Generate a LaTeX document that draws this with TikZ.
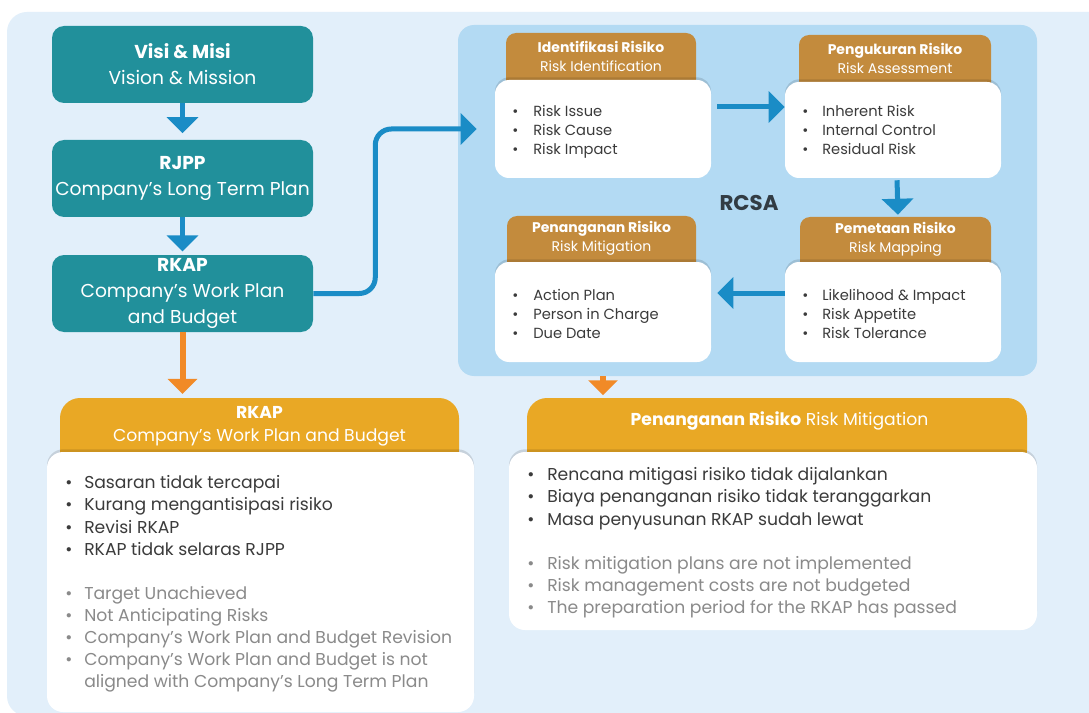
\documentclass[tikz,border=0pt]{standalone}
\usepackage{fontspec}
\setmainfont{Poppins}
\usetikzlibrary{arrows.meta,calc,shadows}
\definecolor{bgblue}{HTML}{E2EFFA}
\definecolor{panelc}{HTML}{B3DAF3}
\definecolor{tealc}{HTML}{21909B}
\definecolor{goldc}{HTML}{C38B3D}
\definecolor{orangeh}{HTML}{E9A825}
\definecolor{orangea}{HTML}{F18A27}
\definecolor{bluea}{HTML}{1A8CC6}
\definecolor{darkt}{HTML}{3B3B3B}
\definecolor{grayt}{HTML}{8A8A8A}
\definecolor{rcsat}{HTML}{323C44}
\newcommand\itm[3]{\strut\makebox[#1][l]{\color{#2}\textbullet}{\color{#2}#3}}
\begin{document}
\begin{tikzpicture}[x=0.75pt,y=-0.75pt,
  tealbox/.style={fill=tealc, rounded corners=9pt, minimum width=195.75pt, minimum height=57.75pt, inner sep=0pt, text=white, align=center, font=\fontsize{14}{19.5}\selectfont},
  panel/.style={fill=panelc, rounded corners=12pt, inner sep=0pt},
  ghead/.style={fill=goldc, rounded corners=7.5pt, inner sep=0pt, minimum height=46.5pt},
  gheadtext/.style={text=white, align=center, inner sep=0pt, font=\fontsize{10.5}{14.25}\selectfont},
  wbox/.style={fill=white, rounded corners=10.5pt, inner sep=0pt, minimum width=162pt, drop shadow={shadow xshift=0pt, shadow yshift=2pt, opacity=0.12, fill=black}},
  blist/.style={anchor=north west, inner sep=0pt, align=left, font=\fontsize{11}{14.25}\selectfont},
  ohead/.style={fill=orangeh, rounded corners=15pt, inner sep=0pt, minimum height=54pt},
  oheadtext/.style={text=white, align=center, inner sep=0pt, font=\fontsize{12.9}{17.25}\selectfont},
  bigbox/.style={fill=white, rounded corners=12pt, inner sep=0pt, drop shadow={shadow xshift=0pt, shadow yshift=2pt, opacity=0.12, fill=black}},
  biglist/.style={anchor=north west, inner sep=0pt, align=left, font=\fontsize{12.9}{16.6}\selectfont},
  bluearrow/.style={draw=bluea, line width=3.75pt, -{Triangle[width=23.25pt,length=12pt]}},
  orangearrow/.style={draw=orangea, line width=4.5pt, -{Triangle[width=21.75pt,length=11.25pt]}}
]
\path[use as bounding box, clip] (0,0) rectangle (1089,713);
\fill[white] (0,0) rectangle (1089,713);
\fill[bgblue, rounded corners=15pt] (7,12) rectangle (1130,716);

% left column
\node[tealbox] (visi) at (182.5,64.5) {\textbf{Visi \& Misi}\\Vision \& Mission};
\node[tealbox] (rjpp) at (182.5,178.5) {\textbf{RJPP}\\Company’s Long Term Plan};
\node[tealbox] (rkap) at (182.5,293.5) {\textbf{RKAP}\\Company’s Work Plan\\and Budget};
\draw[bluearrow, shorten >=5pt] (visi) -- (rjpp);
\draw[bluearrow, shorten >=2.5pt] (rjpp) -- (rkap);

% RCSA panel
\node[panel, minimum width=434.25pt, minimum height=263.25pt] (rcsa) at (747.5,200.5) {};
\node[font=\bfseries\fontsize{16}{16}\selectfont, text=rcsat] (rcsalabel) at (749,203) {RCSA};

\node[ghead, minimum width=142.5pt] (idhead) at (601,64) {};
\node[gheadtext] (idheadt) at (601,56.5) {\textbf{Identifikasi Risiko}\\Risk Identification};
\node[ghead, minimum width=144pt] (penghead) at (895,66) {};
\node[gheadtext] (pengheadt) at (895,58) {\textbf{Pengukuran Risiko}\\Risk Assessment};
\node[ghead, minimum width=143.25pt] (pemhead) at (895.5,248) {};
\node[gheadtext] (pemheadt) at (895.5,239) {\textbf{Pemetaan Risiko}\\Risk Mapping};
\node[ghead, minimum width=141.75pt] (mithead) at (601.5,247) {};
\node[gheadtext] (mitheadt) at (601.5,238) {\textbf{Penanganan Risiko}\\Risk Mitigation};

\node[wbox, minimum height=73.5pt] (idbox) at (603,129) {};
\node[wbox, minimum height=72pt] (pengbox) at (893,130) {};
\node[wbox, minimum height=75pt] (pembox) at (893,312) {};
\node[wbox, minimum height=75pt] (mitbox) at (603,312) {};

\node[blist] (idlist) at (512,102.5) {\itm{15.75pt}{darkt}{Risk Issue}\\\itm{15.75pt}{darkt}{Risk Cause}\\\itm{15.75pt}{darkt}{Risk Impact}};
\node[blist] (penglist) at (802,102.5) {\itm{15pt}{darkt}{Inherent Risk}\\\itm{15pt}{darkt}{Internal Control}\\\itm{15pt}{darkt}{Residual Risk}};
\node[blist] (pemlist) at (802,286.5) {\itm{15pt}{darkt}{Likelihood \& Impact}\\\itm{15pt}{darkt}{Risk Appetite}\\\itm{15pt}{darkt}{Risk Tolerance}};
\node[blist] (mitlist) at (512,286.5) {\itm{15.75pt}{darkt}{Action Plan}\\\itm{15.75pt}{darkt}{Person in Charge}\\\itm{15.75pt}{darkt}{Due Date}};

\draw[bluearrow, shorten <=4.5pt] ($(idbox.east)+(0,-22)$) -- ($(pengbox.west)+(0,-23)$);
\draw[bluearrow, shorten <=1.5pt, shorten >=1.5pt] ($(pengbox.south)+(4,0)$) -- ($(pemhead.north)+(2.5,0)$);
\draw[bluearrow, shorten >=4.5pt] ($(pembox.west)+(0,-19)$) -- ($(mitbox.east)+(0,-19)$);

% connector RKAP -> RCSA
\draw[bluearrow, rounded corners=12pt, shorten >=13.5pt] (rkap.east) -- ++(62,0) |- (idbox.west);

% bottom boxes
\draw[orangearrow, shorten >=3.5pt] (rkap) -- ++(0,105);
\node[ohead, minimum width=299.25pt] (lhead) at (259.5,434) {};
\node[oheadtext] (lheadt) at (259.5,426) {\textbf{RKAP}\\Company’s Work Plan and Budget};
\node[bigbox, minimum width=320.25pt, minimum height=195pt] (lbox) at (260.5,582) {};
\node[biglist] (llist) at (65,473) {%
\itm{14.25pt}{darkt}{Sasaran tidak tercapai}\\
\itm{14.25pt}{darkt}{Kurang mengantisipasi risiko}\\
\itm{14.25pt}{darkt}{Revisi RKAP}\\
\itm{14.25pt}{darkt}{RKAP tidak selaras RJPP}\\
\strut\\
\itm{14.25pt}{grayt}{Target Unachieved}\\
\itm{14.25pt}{grayt}{Not Anticipating Risks}\\
\itm{14.25pt}{grayt}{Company’s Work Plan and Budget Revision}\\
\itm{14.25pt}{grayt}{Company’s Work Plan and Budget is not}\\
\strut\hspace*{14.25pt}{\color{grayt}aligned with Company’s Long Term Plan}};

\draw[orangearrow, shorten >=1.5pt] (rcsa.south -| mitbox) -- ++(0,21);
\node[ohead, minimum width=375pt] (rhead) at (777,434) {};
\node[oheadtext] (rheadt) at (779.5,421) {\textbf{Penanganan Risiko} Risk Mitigation};
\node[bigbox, minimum width=396pt, minimum height=133.5pt] (rbox) at (773,541) {};
\node[biglist] (rlist) at (527,465) {%
\itm{15pt}{darkt}{Rencana mitigasi risiko tidak dijalankan}\\
\itm{15pt}{darkt}{Biaya penanganan risiko tidak teranggarkan}\\
\itm{15pt}{darkt}{Masa penyusunan RKAP sudah lewat}\\
\strut\\
\itm{15pt}{grayt}{Risk mitigation plans are not implemented}\\
\itm{15pt}{grayt}{Risk management costs are not budgeted}\\
\itm{15pt}{grayt}{The preparation period for the RKAP has passed}};
\end{tikzpicture}
\end{document}
